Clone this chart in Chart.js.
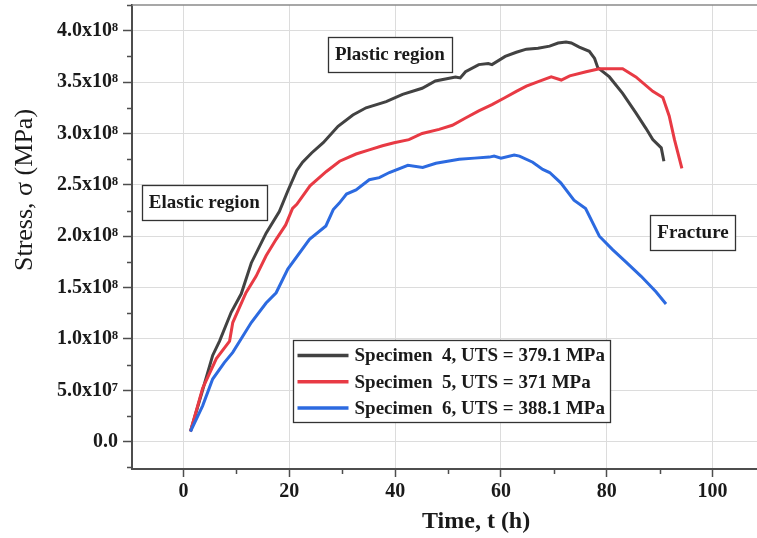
<!DOCTYPE html>
<html>
<head>
<meta charset="utf-8">
<script src="https://cdn.jsdelivr.net/npm/chart.js@4.4.1/dist/chart.umd.min.js"></script>
<style>
  html, body { margin: 0; padding: 0; background: #fff; overflow: hidden; }
  #wrap { position: relative; width: 757px; height: 538px; }
</style>
</head>
<body>
<div id="wrap"><canvas id="stress-time"></canvas></div>
<script>
// values (time in h, stress in units of 1e8)
const time4 = [1.3, 3.3, 5.5, 6.8, 9.0, 10.9, 12.8, 15.6, 18.1, 19.7, 21.4, 22.5, 24.2, 26.4, 29.2, 32.0, 34.5, 38.3, 41.4, 45.1, 47.6, 51.4, 52.3, 53.3, 55.8, 57.6, 58.3, 60.8, 62.9, 64.8, 67.0, 69.2, 70.8, 72.3, 73.3, 74.8, 76.7, 77.7, 78.3, 80.5, 83.0, 85.5, 87.4, 88.7, 90.3, 90.8];
const stress4 = [0.10, 0.45, 0.84, 0.98, 1.26, 1.44, 1.74, 2.03, 2.24, 2.44, 2.64, 2.72, 2.81, 2.91, 3.07, 3.18, 3.25, 3.31, 3.38, 3.44, 3.51, 3.55, 3.54, 3.60, 3.67, 3.68, 3.67, 3.75, 3.79, 3.82, 3.83, 3.85, 3.88, 3.89, 3.88, 3.84, 3.80, 3.73, 3.64, 3.55, 3.39, 3.20, 3.05, 2.94, 2.86, 2.73];

const time5 = [1.3, 3.6, 6.2, 8.7, 9.3, 11.8, 13.7, 15.6, 17.5, 19.3, 20.6, 21.4, 23.9, 27.0, 29.5, 32.6, 35.1, 37.6, 39.8, 42.6, 45.1, 48.3, 50.8, 53.3, 55.8, 58.3, 60.8, 62.9, 64.8, 67.3, 69.5, 71.4, 73.0, 76.1, 78.6, 81.1, 83.0, 85.5, 88.7, 90.6, 91.8, 92.8, 94.2];
const stress5 = [0.10, 0.52, 0.81, 0.98, 1.16, 1.45, 1.61, 1.81, 1.97, 2.11, 2.27, 2.31, 2.49, 2.63, 2.73, 2.80, 2.84, 2.88, 2.91, 2.94, 3.00, 3.04, 3.08, 3.15, 3.22, 3.28, 3.35, 3.41, 3.46, 3.51, 3.55, 3.52, 3.56, 3.60, 3.63, 3.63, 3.63, 3.55, 3.41, 3.35, 3.17, 2.94, 2.66];

const time6 = [1.3, 3.6, 5.5, 7.7, 9.3, 12.8, 15.6, 17.5, 19.7, 23.8, 26.9, 28.3, 29.4, 30.8, 32.6, 35.1, 37.0, 38.9, 42.4, 45.2, 47.7, 52.1, 55.0, 57.8, 58.7, 60.0, 62.5, 63.5, 66.0, 67.9, 69.2, 71.3, 73.8, 76.0, 78.6, 81.1, 83.6, 86.5, 89.3, 91.2];
const stress6 = [0.10, 0.35, 0.61, 0.77, 0.87, 1.16, 1.35, 1.45, 1.68, 1.97, 2.10, 2.26, 2.32, 2.41, 2.45, 2.55, 2.57, 2.62, 2.69, 2.67, 2.71, 2.75, 2.76, 2.77, 2.78, 2.76, 2.79, 2.78, 2.72, 2.65, 2.62, 2.52, 2.35, 2.27, 2.00, 1.87, 1.75, 1.61, 1.46, 1.34];

const seriesLabels = ['Specimen  4, UTS = 379.1 MPa', 'Specimen  5, UTS = 371 MPa', 'Specimen  6, UTS = 388.1 MPa'];
const noteLabels = ['Elastic region', 'Plastic region', 'Fracture'];

const serif = "'Liberation Serif', 'Times New Roman', serif";
const axisGrey = '#4d4d4d';
const gridGrey = '#dcdcdc';
const ink = '#1a1a1a';
const lineBlack = '#424242';
const lineRed = '#e83a44';
const lineBlue = '#2c6ae0';
const supDigits = { 7: '\u2077', 8: '\u2078' };

function toPoints(ts, ss) {
  return ts.map((t, i) => ({ x: t, y: ss[i] }));
}

// v is in units of 1e8
function sciLabel(v) {
  if (Math.abs(v) < 1e-6) return '0.0';
  const pa = v * 1e8;
  const e = Math.floor(Math.log10(Math.abs(pa)) + 1e-9);
  return (pa / Math.pow(10, e)).toFixed(1) + 'x10' + supDigits[e];
}

// keep the plot box where the figure has it, ignoring label overhang
function fixBox(size) {
  return scale => {
    if (scale.isHorizontal()) scale.height = size;
    else scale.width = size;
    scale.paddingTop = 0;
    scale.paddingBottom = 0;
    scale.paddingLeft = 0;
    scale.paddingRight = 0;
  };
}

// minor ticks, top frame, region notes, legend and axis titles
const decorations = {
  id: 'decorations',
  afterDraw(chart, args, opts) {
    const { ctx, chartArea: area } = chart;
    const xs = chart.scales.x;
    const ys = chart.scales.y;
    ctx.save();

    // top frame line
    ctx.strokeStyle = '#8a8a8a';
    ctx.lineWidth = 1.5;
    ctx.beginPath();
    ctx.moveTo(area.left, area.top);
    ctx.lineTo(area.right, area.top);
    ctx.stroke();

    // minor ticks
    ctx.strokeStyle = axisGrey;
    ctx.lineWidth = 1.5;
    ctx.beginPath();
    for (let v = -10; v <= xs.max; v += 10) {
      if (v < xs.min || v % 20 === 0) continue;
      const px = Math.round(xs.getPixelForValue(v)) + 0.5;
      ctx.moveTo(px, area.bottom);
      ctx.lineTo(px, area.bottom + 5);
    }
    for (let k = -1; k * 0.25 <= ys.max; k++) {
      const v = k * 0.25;
      if (v < ys.min || k % 2 === 0) continue;
      const py = Math.round(ys.getPixelForValue(v)) + 0.5;
      ctx.moveTo(area.left, py);
      ctx.lineTo(area.left - 5, py);
    }
    ctx.stroke();

    // region notes
    ctx.font = 'bold 19px ' + serif;
    ctx.textBaseline = 'middle';
    ctx.textAlign = 'center';
    opts.notes.forEach((n, i) => {
      const cx = xs.getPixelForValue(n.x);
      const cy = ys.getPixelForValue(n.y);
      const w = Math.round(ctx.measureText(noteLabels[i]).width + 14);
      const h = 35;
      const bx = Math.round(cx - w / 2) + 0.5;
      const by = Math.round(cy - h / 2) + 0.5;
      ctx.fillStyle = '#fff';
      ctx.fillRect(bx, by, w, h);
      ctx.strokeStyle = '#333';
      ctx.lineWidth = 1.3;
      ctx.strokeRect(bx, by, w, h);
      ctx.fillStyle = ink;
      ctx.fillText(noteLabels[i], cx, cy + 1);
    });

    // legend box
    const lx = Math.round(xs.getPixelForValue(opts.legendAt.x)) + 0.5;
    const ly = Math.round(ys.getPixelForValue(opts.legendAt.y)) + 0.5;
    ctx.font = 'bold 19px ' + serif;
    ctx.textAlign = 'left';
    let tw = 0;
    seriesLabels.forEach(s => { tw = Math.max(tw, ctx.measureText(s).width); });
    const rowH = 26.3;
    const boxW = Math.round(4 + 51 + 6 + tw + 6);
    const boxH = Math.round(rowH * 3 + 3);
    ctx.fillStyle = '#fff';
    ctx.fillRect(lx, ly, boxW, boxH);
    ctx.strokeStyle = '#333';
    ctx.lineWidth = 1.3;
    ctx.strokeRect(lx, ly, boxW, boxH);
    chart.data.datasets.forEach((ds, i) => {
      const ry = ly + 15 + i * rowH;
      ctx.strokeStyle = ds.borderColor;
      ctx.lineWidth = 3.5;
      ctx.beginPath();
      ctx.moveTo(lx + 4, ry);
      ctx.lineTo(lx + 55, ry);
      ctx.stroke();
      ctx.fillStyle = ink;
      ctx.fillText(seriesLabels[i], lx + 61, ry + 1);
    });

    // axis titles
    ctx.fillStyle = ink;
    ctx.textAlign = 'center';
    ctx.font = 'bold 24px ' + serif;
    ctx.fillText('Time, t (h)', xs.getPixelForValue(opts.xTitleAt), 522);
    ctx.save();
    ctx.translate(25, ys.getPixelForValue(opts.yTitleAt));
    ctx.rotate(-Math.PI / 2);
    ctx.font = '26px ' + serif;
    ctx.fillText('Stress, \u03c3 (MPa)', 0, 0);
    ctx.restore();

    ctx.restore();
  }
};

const lineStyle = { borderWidth: 3, pointRadius: 0, tension: 0, fill: false };

new Chart(document.getElementById('stress-time'), {
  type: 'line',
  data: {
    datasets: [
      { ...lineStyle, label: seriesLabels[0], data: toPoints(time4, stress4), borderColor: lineBlack, order: 2 },
      { ...lineStyle, label: seriesLabels[1], data: toPoints(time5, stress5), borderColor: lineRed, order: 1 },
      { ...lineStyle, label: seriesLabels[2], data: toPoints(time6, stress6), borderColor: lineBlue, order: 0 },
    ],
  },
  options: {
    responsive: true,
    maintainAspectRatio: false,
    animation: false,
    layout: { padding: { top: 5, right: 0, left: 0, bottom: 0 } },
    scales: {
      x: {
        type: 'linear',
        min: -9.75,
        max: 108.4,
        afterFit: fixBox(69),
        border: { color: axisGrey, width: 2 },
        grid: { color: gridGrey, lineWidth: 1, tickLength: 8, tickColor: axisGrey, tickWidth: 1.5 },
        ticks: {
          stepSize: 20,
          includeBounds: false,
          maxRotation: 0,
          padding: 3,
          color: ink,
          font: { family: serif, size: 20, weight: 'bold' },
        },
      },
      y: {
        min: -0.265,
        max: 4.25,
        afterFit: fixBox(132),
        border: { color: axisGrey, width: 2 },
        grid: { color: gridGrey, lineWidth: 1, tickLength: 9, tickColor: axisGrey, tickWidth: 1.5 },
        ticks: {
          stepSize: 0.5,
          includeBounds: false,
          padding: 5,
          color: ink,
          font: { family: serif, size: 20, weight: 'bold' },
          callback: v => sciLabel(v),
        },
      },
    },
    plugins: {
      legend: { display: false },
      tooltip: { enabled: false },
      decorations: {
        notes: [{ x: 3.9, y: 2.33 }, { x: 39.0, y: 3.77 }, { x: 96.3, y: 2.04 }],
        legendAt: { x: 20.7, y: 0.99 },
        xTitleAt: 55.3,
        yTitleAt: 2.45,
      },
    },
  },
  plugins: [decorations],
});
</script>
</body>
</html>
